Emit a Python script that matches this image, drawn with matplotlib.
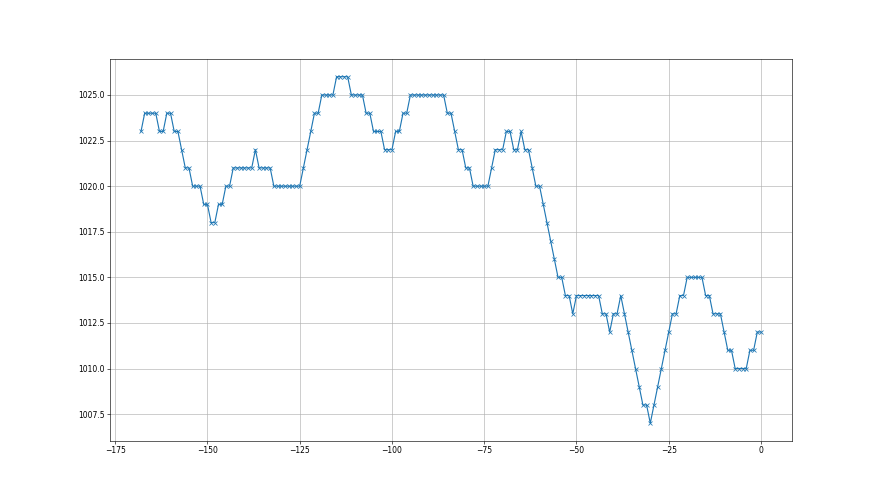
import numpy as np
import matplotlib
matplotlib.use("Agg")
import matplotlib.pyplot as plt

# Pressure plateaus: (value, number of consecutive hourly readings)
levels = [1023, 1024, 1023, 1024, 1023, 1022, 1021, 1020, 1019, 1018, 1019, 1020,
          1021, 1022, 1021, 1020, 1021, 1022, 1023, 1024, 1025, 1026, 1025, 1024,
          1023, 1022, 1023, 1024, 1025, 1024, 1023, 1022, 1021, 1020, 1021, 1022,
          1023, 1022, 1023, 1022, 1021, 1020, 1019, 1018, 1017, 1016, 1015, 1014,
          1013, 1014, 1013, 1012, 1013, 1014, 1013, 1012, 1011, 1010, 1009, 1008,
          1007, 1008, 1009, 1010, 1011, 1012, 1013, 1014, 1015, 1014, 1013, 1012,
          1011, 1010, 1011, 1012]
counts = [1, 4, 2, 2, 2, 1, 2, 3, 2, 2, 2, 2,
          6, 1, 4, 8, 1, 1, 1, 2, 4, 4, 4, 2,
          3, 3, 2, 2, 10, 2, 1, 2, 2, 5, 1, 3,
          2, 2, 1, 2, 1, 2, 1, 1, 1, 1, 2, 2,
          1, 7, 2, 1, 2, 1, 1, 1, 1, 1, 1, 2,
          1, 1, 1, 1, 1, 1, 2, 2, 5, 2, 3, 1,
          2, 4, 2, 2]

pressure = np.repeat(levels, counts)
hours = np.arange(-(len(pressure) - 1), 1)

fig = plt.figure(figsize=(16, 9), dpi=55)
ax = fig.add_subplot(111)
ax.plot(hours, pressure, marker='x', color='#1f77b4')
ax.grid(True)
fig.savefig("out.png", dpi=55)
